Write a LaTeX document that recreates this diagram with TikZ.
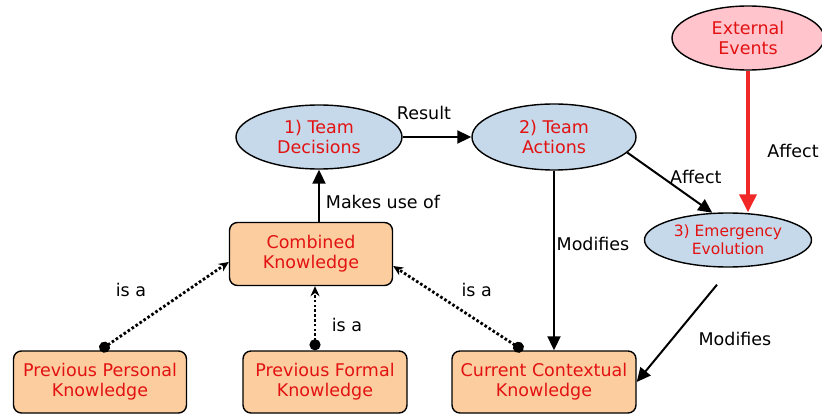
\documentclass[tikz,border=0pt]{standalone}
\usepackage{fontspec}
\setmainfont{DejaVu Sans}
\usetikzlibrary{arrows.meta, positioning, shapes.geometric}
\definecolor{boxfill}{RGB}{252,205,158}
\definecolor{phasefill}{RGB}{198,217,234}
\definecolor{extfill}{RGB}{255,196,204}
\definecolor{nodetext}{RGB}{226,18,18}
\definecolor{redline}{RGB}{240,40,40}

\begin{document}
\begin{tikzpicture}[x=1pt, y=-1pt, font=\fontsize{17.5}{20}\selectfont,
  kbox/.style={draw, line width=1.4pt, rounded corners=8pt, fill=boxfill, text=nodetext,
    align=center, minimum height=62pt, inner sep=0pt},
  phase/.style={draw, ellipse, line width=1.4pt, fill=phasefill, text=nodetext,
    align=center, inner sep=0pt},
  rel/.style={-{Triangle[length=14pt, width=13pt]}, line width=2pt},
  isa/.style={{Circle[length=11pt]}-{Stealth[length=10pt, width=9pt]}, line width=2.8pt,
    dash pattern=on 2.6pt off 2.2pt},
  lab/.style={text=black, inner sep=1pt}]
  \useasboundingbox (0,0) rectangle (822,414);

  % knowledge boxes
  \node[kbox, minimum width=173pt] (pers) at (100,382) {Previous Personal\\Knowledge};
  \node[kbox, minimum width=164pt] (form) at (325,382) {Previous Formal\\Knowledge};
  \node[kbox, minimum width=184pt] (cur) at (544,382) {Current Contextual\\Knowledge};
  \node[kbox, minimum width=163pt, minimum height=63pt] (comb) at (311,254) {Combined\\Knowledge};

  % phases
  \node[phase, minimum width=166pt, minimum height=64pt] (dec) at (319,137) {1) Team\\Decisions};
  \node[phase, minimum width=164pt, minimum height=66pt] (act) at (554,137) {2) Team\\Actions};
  \node[phase, minimum width=167pt, minimum height=54pt, font=\fontsize{15.5}{18}\selectfont] (evo) at (728,240) {3) Emergency\\Evolution};
  \node[phase, fill=extfill, minimum width=152pt, minimum height=64pt] (ext) at (748,38) {External\\Events};

  % relations
  \draw[rel] (dec) -- node[lab, pos=0.31, yshift=24pt] {Result} (act);
  \draw[rel] (comb.north -| dec.south) -- node[lab, pos=0.38, xshift=64pt] {Makes use of} (dec.south);
  \draw[rel] (act.south) -- node[lab, pos=0.41, xshift=39pt] {Modifies} (act.south |- cur.north);
  \draw[rel] (act.-12) -- node[lab, pos=0.67, xshift=11.6pt, yshift=16.3pt] {Affect} (evo.120);
  \draw[-{Triangle[length=18pt, width=17pt]}, line width=3.5pt, redline] (ext) -- node[lab, pos=0.57, xshift=45pt] {Affect} (ext |- evo.north);
  \draw[rel] (evo.south) ++(-11,17) -- node[lab, pos=0.237, xshift=37pt, yshift=-31pt] {Modifies} (cur.east);

  % is a
  \draw[isa] (pers.north) -- node[lab, pos=0.38, xshift=-18pt, yshift=27pt] {is a} ([yshift=-8pt]comb.west);
  \draw[isa] ([xshift=-10pt]form.north) -- node[lab, pos=0.39, xshift=32pt] {is a} ([xshift=-10pt]form.north |- comb.south);
  \draw[isa] ([xshift=-21pt]cur.north) -- node[lab, pos=0.465, xshift=14pt, yshift=21.5pt] {is a} ([yshift=-12pt]comb.east);
\end{tikzpicture}
\end{document}
